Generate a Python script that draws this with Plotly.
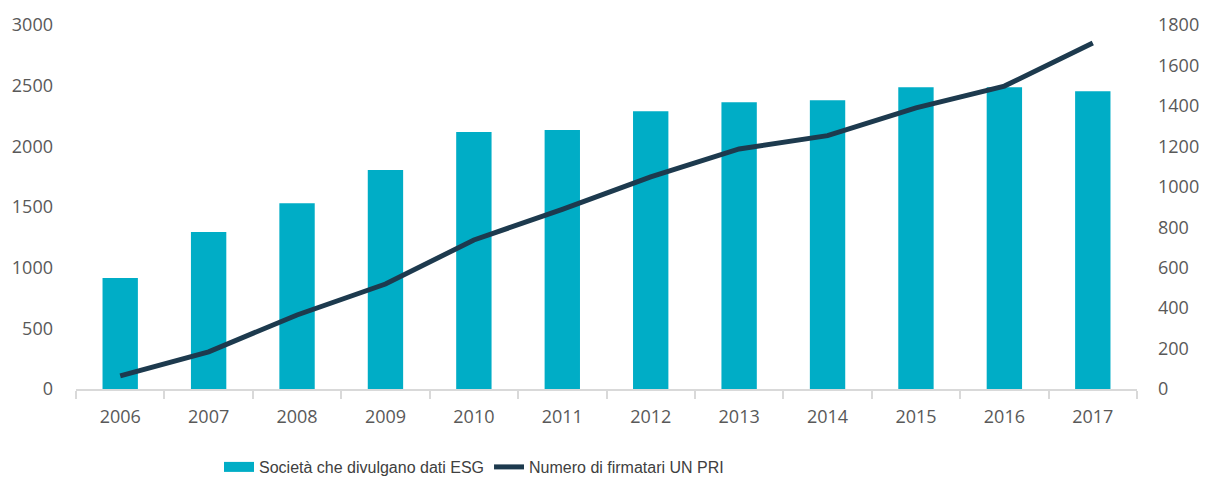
import plotly.graph_objects as go

years = ["2006", "2007", "2008", "2009", "2010", "2011", "2012", "2013", "2014", "2015", "2016", "2017"]
societa_esg = [915, 1293, 1530, 1805, 2118, 2135, 2290, 2364, 2380, 2486, 2486, 2453]
firmatari_unpri = [65, 184, 366, 519, 737, 888, 1049, 1187, 1253, 1390, 1498, 1711]

bar_name = "Società che divulgano dati ESG"
line_name = "Numero di firmatari UN PRI"
bar_color = "#00adc6"
line_color = "#1d3a4e"

fig = go.Figure()
fig.add_trace(go.Bar(
    x=years, y=societa_esg, name=bar_name,
    marker=dict(color=bar_color, line=dict(width=0)),
    yaxis="y", showlegend=False, legendgroup="bars",
))
# legend entry for the bars drawn as a wide rectangle (as in the reference)
fig.add_trace(go.Scatter(
    x=[None], y=[None], name=bar_name, mode="lines",
    line=dict(color=bar_color, width=10), legendgroup="bars",
    yaxis="y", hoverinfo="skip",
))
fig.add_trace(go.Scatter(
    x=years, y=firmatari_unpri, name=line_name, mode="lines",
    line=dict(color=line_color, width=5),
    yaxis="y2",
))

tick_font = dict(family="Open Sans, Lato, sans-serif", size=18, color="#595959")

fig.update_layout(
    width=1211, height=478,
    margin=dict(l=76, r=73, t=22, b=89),
    paper_bgcolor="white", plot_bgcolor="white",
    bargap=0.6,
    showlegend=True,
    legend=dict(
        orientation="h", xref="container", yref="container",
        x=219 / 1211, xanchor="left", y=11 / 478, yanchor="middle",
        font=dict(family="Liberation Sans Narrow, Arial Narrow, Liberation Sans, Arial, sans-serif", size=16, color="#404040"),
        itemwidth=30, traceorder="normal",
    ),
    xaxis=dict(
        type="category", showgrid=False, showline=True, linecolor="#d9d9d9", linewidth=2,
        ticks="outside", tickson="boundaries", ticklen=8, tickcolor="#d9d9d9", tickwidth=2,
        tickfont=tick_font, ticklabelstandoff=10,
    ),
    yaxis=dict(
        range=[0, 3000], dtick=500, showgrid=False, zeroline=False, showline=False,
        tickfont=tick_font, ticklabelstandoff=22,
    ),
    yaxis2=dict(
        range=[0, 1800], dtick=200, overlaying="y", side="right", showgrid=False,
        zeroline=False, showline=False, tickfont=tick_font, ticklabelstandoff=20,
    ),
)

fig.write_html("out.html")
